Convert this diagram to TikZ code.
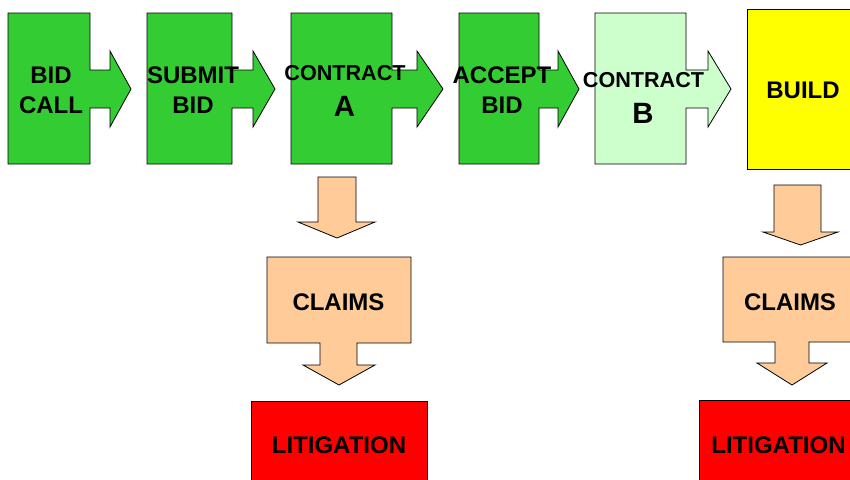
\documentclass[tikz,border=0pt]{standalone}
\usepackage{fontspec}
\setmainfont{Liberation Sans}
\definecolor{bidgreen}{RGB}{51,204,51}
\definecolor{palegreen}{RGB}{204,255,204}
\definecolor{buildyellow}{RGB}{255,255,0}
\definecolor{claimpeach}{RGB}{255,204,153}
\definecolor{litred}{RGB}{255,0,0}
\begin{document}
\begin{tikzpicture}[x=0.75pt,y=0.75pt,yscale=-1,xscale=1,
  blk/.style={draw=black,line width=0.6pt,line join=miter},
  boxtext/.style={inner sep=0pt,align=center,font=\bfseries\fontsize{18}{22.5}\selectfont},
  smalltext/.style={inner sep=0pt,anchor=base,font=\bfseries\fontsize{16.2}{18}\selectfont},
  bigletter/.style={inner sep=0pt,anchor=base,font=\bfseries\fontsize{22}{24}\selectfont}]
\clip (0,0) rectangle (850,479);

%Shape: Right Arrow Callout [BID CALL]
\draw [blk,fill=bidgreen] (8,13) -- (90,13) -- (90,70) -- (110,70) -- (110,51) -- (131,89) -- (110,127) -- (110,108) -- (90,108) -- (90,164) -- (8,164) -- cycle ;
%Shape: Right Arrow Callout [SUBMIT BID]
\draw [blk,fill=bidgreen] (147,13) -- (232,13) -- (232,70) -- (253,70) -- (253,51) -- (275,89) -- (253,127) -- (253,108) -- (232,108) -- (232,164) -- (147,164) -- cycle ;
%Shape: Right Arrow Callout [CONTRACT A]
\draw [blk,fill=bidgreen] (291,13) -- (392,13) -- (392,70) -- (417,70) -- (417,51) -- (443,89) -- (417,127) -- (417,108) -- (392,108) -- (392,164) -- (291,164) -- cycle ;
%Shape: Right Arrow Callout [ACCEPT BID]
\draw [blk,fill=bidgreen] (459,13) -- (539,13) -- (539,70) -- (558,70) -- (558,51) -- (579,89) -- (558,127) -- (558,108) -- (539,108) -- (539,164) -- (459,164) -- cycle ;
%Shape: Right Arrow Callout [CONTRACT B]
\draw [blk,fill=palegreen] (595,13) -- (686,13) -- (686,70) -- (708,70) -- (708,51) -- (731,89) -- (708,127) -- (708,108) -- (686,108) -- (686,164) -- (595,164) -- cycle ;
%Shape: Rectangle [BUILD]
\draw [blk,fill=buildyellow] (747,9) rectangle (859,169) ;

%Shape: Down Arrow [left]
\draw [blk,fill=claimpeach] (318,177) -- (356,177) -- (356,222) -- (375,222) -- (337,238) -- (298,222) -- (318,222) -- cycle ;
%Shape: Down Arrow Callout [CLAIMS left]
\draw [blk,fill=claimpeach] (267,257) -- (411,257) -- (411,343) -- (357,343) -- (357,365) -- (375,365) -- (339,385) -- (303,365) -- (320,365) -- (320,343) -- (267,343) -- cycle ;
%Shape: Rectangle [LITIGATION left]
\draw [blk,fill=litred] (251,401) rectangle (427,490) ;

%Shape: Down Arrow [right]
\draw [blk,fill=claimpeach] (774,185) -- (821,185) -- (821,232) -- (838,232) -- (800.5,245) -- (763,232) -- (774,232) -- cycle ;
%Shape: Down Arrow Callout [CLAIMS right]
\draw [blk,fill=claimpeach] (723,257) -- (861,257) -- (861,342) -- (809,342) -- (809,363) -- (827,363) -- (792,385) -- (757,363) -- (775,363) -- (775,342) -- (723,342) -- cycle ;
%Shape: Rectangle [LITIGATION right]
\draw [blk,fill=litred] (699,400) rectangle (857,490) ;

% Text Node
\draw (51,90) node (bidcall) [boxtext] {BID\\CALL};
% Text Node
\draw (193,90) node (submitbid) [boxtext] {SUBMIT\\BID};
% Text Node
\draw (345,80) node (contractA) [smalltext] {CONTRACT};
\draw (344.5,116) node (letterA) [bigletter] {A};
% Text Node
\draw (502,90) node (acceptbid) [boxtext] {ACCEPT\\BID};
% Text Node
\draw (643.5,87) node (contractB) [smalltext] {CONTRACT};
\draw (643,123) node (letterB) [bigletter] {B};
% Text Node
\draw (803,90) node (build) [boxtext] {BUILD};
% Text Node
\draw (338.5,302.5) node (claimsA) [boxtext] {CLAIMS};
\draw (339,445) node (litigA) [boxtext] {LITIGATION};
% Text Node
\draw (790,302.5) node (claimsB) [boxtext] {CLAIMS};
\draw (778.5,445) node (litigB) [boxtext] {LITIGATION};
\end{tikzpicture}
\end{document}
